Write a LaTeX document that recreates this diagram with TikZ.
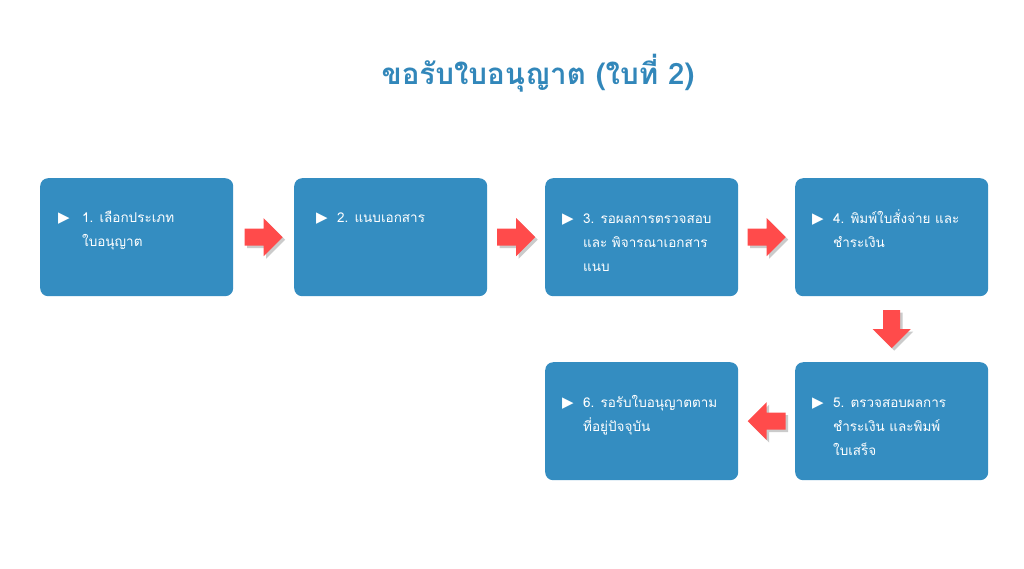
\documentclass[tikz,border=0pt]{standalone}
\usepackage{fontspec}
\newfontfamily\thaifont[Script=Thai]{Loma}
\newfontfamily\symfont{DejaVu Sans}
\usetikzlibrary{calc}
\definecolor{boxblue}{RGB}{52,141,193}
\definecolor{titleblue}{RGB}{50,135,186}
\definecolor{arrowred}{RGB}{255,75,75}
% bullet list item: #1 = gap after the bullet, #2 = lines of text
\newcommand{\stepitem}[2]{%
  \begin{tabular}[t]{@{}p{#1}@{}l@{}}
    \raisebox{-0.3pt}{\symfont\fontsize{15}{15}\selectfont ▶} & #2
  \end{tabular}}
\tikzset{
  stepbox/.style={fill=boxblue, rounded corners=8pt, minimum width=193pt,
    minimum height=118pt, inner sep=0pt, anchor=north west},
  steptext/.style={text=white, inner sep=0pt, anchor=base west,
    font=\thaifont\fontsize{13.5}{24}\selectfont},
  pics/arrowpoly/.style={code={
    \fill[pic actions] (-19,-8.5) -- (0,-8.5) -- (0,-19) -- (19,0)
      -- (0,19) -- (0,8.5) -- (-19,8.5) -- cycle;}},
  arrowshadow/.style={fill=black!45, opacity=0.45},
  arrowbody/.style={fill=arrowred}
}
\newcommand{\blockarrow}[2]{%
  \pic[shift={(2.5,2.5)}, rotate=#2, arrowshadow] at (#1) {arrowpoly};
  \pic[rotate=#2, arrowbody] at (#1) {arrowpoly};}
\begin{document}
\begin{tikzpicture}[x=1pt, y=-1pt]
\useasboundingbox (0,0) rectangle (1024,568);
\fill[white] (0,0) rectangle (1024,568);

% title
\node[font=\thaifont\bfseries\fontsize{29.5}{36}\selectfont, text=titleblue]
  (title) at (538,73) {ขอรับใบอนุญาต (ใบที่ 2)};

% step boxes
\node[stepbox] (b1) at (40,178) {};
\node[stepbox] (b2) at (294,178) {};
\node[stepbox] (b3) at (545,178) {};
\node[stepbox] (b4) at (795,178) {};
\node[stepbox] (b5) at (795,362) {};
\node[stepbox] (b6) at (545,362) {};

% step texts
\node[steptext] (t1) at ($(b1.north west)+(18,44)$)
  {\stepitem{24pt}{1. เลือกประเภท\\ & ใบอนุญาต}};
\node[steptext] (t2) at ($(b2.north west)+(22,44)$)
  {\stepitem{21pt}{2. แนบเอกสาร}};
\node[steptext] (t3) at ($(b3.north west)+(17,45)$)
  {\stepitem{21pt}{3. รอผลการตรวจสอบ\\ & และ พิจารณาเอกสาร\\ & แนบ}};
\node[steptext] (t4) at ($(b4.north west)+(17,45)$)
  {\stepitem{21pt}{4. พิมพ์ใบสั่งจ่าย และ\\ & ชำระเงิน}};
\node[steptext] (t5) at ($(b5.north west)+(17,45)$)
  {\stepitem{21pt}{5. ตรวจสอบผลการ\\ & ชำระเงิน และพิมพ์\\ & ใบเสร็จ}};
\node[steptext] (t6) at ($(b6.north west)+(17,45)$)
  {\stepitem{21pt}{6. รอรับใบอนุญาตตาม\\ & ที่อยู่ปัจจุบัน}};

% block arrows between the steps
\coordinate (a12) at ($(b1.east)!0.5!(b2.west)$);
\coordinate (a23) at ($(b2.east)!0.5!(b3.west)$);
\coordinate (a34) at ($(b3.east)!0.5!(b4.west)$);
\coordinate (a45) at ($(b4.south)!0.5!(b5.north)$);
\coordinate (a56) at ($(b5.west)!0.5!(b6.east)$);
\blockarrow{a12}{0}
\blockarrow{a23}{0}
\blockarrow{a34}{0}
\blockarrow{a45}{-90}
\blockarrow{a56}{180}
\end{tikzpicture}
\end{document}
